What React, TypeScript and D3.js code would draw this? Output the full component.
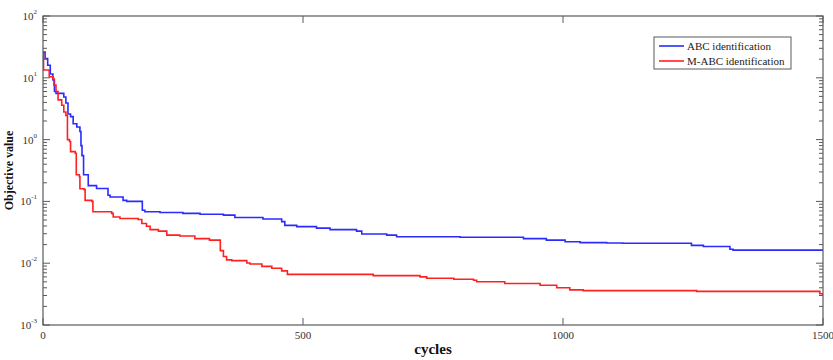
import React from "react";
import * as d3 from "d3";

// Convergence histories: [cycle, objective value], piecewise constant between entries
const abcCycles = [0, 4, 9, 14, 19, 22, 25, 40, 44, 48, 53, 58, 65, 71, 73, 75, 78, 87, 103, 125, 129, 154, 161, 191, 196, 225, 269, 302, 347, 369, 423, 459, 465, 488, 526, 552, 603, 613, 661, 680, 802, 924, 968, 1004, 1033, 1084, 1115, 1247, 1270, 1321, 1327, 1500];
const abcValues = [26, 20.5, 16, 11.5, 9.2, 6, 5.6, 4.9, 3.9, 2.6, 2.35, 1.8, 1.6, 1.35, 0.8, 0.55, 0.27, 0.18, 0.162, 0.126, 0.118, 0.104, 0.1, 0.072, 0.068, 0.066, 0.064, 0.062, 0.06, 0.055, 0.052, 0.047, 0.041, 0.039, 0.037, 0.035, 0.033, 0.0297, 0.0285, 0.0268, 0.0263, 0.025, 0.0236, 0.0223, 0.0215, 0.0212, 0.021, 0.0194, 0.0186, 0.0168, 0.0163, 0.0163];

const mabcCycles = [0, 1, 12, 19, 21, 25, 29, 36, 40, 44, 47, 51, 53, 62, 64, 70, 71, 79, 81, 94, 96, 132, 135, 148, 183, 190, 199, 206, 222, 238, 263, 292, 320, 341, 347, 353, 363, 392, 398, 421, 440, 459, 470, 635, 725, 738, 790, 828, 834, 888, 956, 988, 1013, 1039, 1257, 1494, 1500];
const mabcValues = [25, 13.4, 10.4, 9.8, 7.6, 6, 4.4, 3.6, 2.8, 2.45, 1.0, 0.93, 0.64, 0.6, 0.27, 0.25, 0.16, 0.155, 0.104, 0.1, 0.068, 0.064, 0.056, 0.053, 0.051, 0.044, 0.0396, 0.035, 0.033, 0.0285, 0.0275, 0.025, 0.0236, 0.016, 0.0128, 0.0113, 0.011, 0.0101, 0.0097, 0.0089, 0.0083, 0.0075, 0.0066, 0.0063, 0.006, 0.0057, 0.0055, 0.0053, 0.005, 0.0047, 0.0044, 0.004, 0.0037, 0.0036, 0.0035, 0.0032, 0.003];

const seriesNames = ["ABC identification", "M-ABC identification"];
const seriesColors = ["#2b2bff", "#ff2020"];
const xTicks = [0, 500, 1000, 1500];
const yExponents = [2, 1, 0, -1, -2, -3];

const W = 833;
const H = 360;
const M = { left: 43, right: 10, top: 16, bottom: 35 };

export default function App() {
  const x = d3.scaleLinear().domain([0, 1500]).range([M.left, W - M.right]);
  const y = d3.scaleLog().domain([1e-3, 1e2]).range([H - M.bottom, M.top]);

  const line = d3
    .line<[number, number]>()
    .x((d) => x(d[0]))
    .y((d) => y(d[1]))
    .curve(d3.curveStepAfter);

  const abc: [number, number][] = abcCycles.map((c, i) => [c, abcValues[i]]);
  const mabc: [number, number][] = mabcCycles.map((c, i) => [c, mabcValues[i]]);

  const x0 = x.range()[0];
  const x1 = x.range()[1];
  const yTop = y.range()[1];
  const yBot = y.range()[0];

  // minor log ticks (2..9 in each decade)
  const minor: number[] = [];
  for (let e = -3; e < 2; e++) {
    for (let k = 2; k <= 9; k++) minor.push(k * Math.pow(10, e));
  }

  const axisColor = "#5a5a5a";
  const textColor = "#333";
  const font = "'Liberation Serif', 'Times New Roman', serif";

  const legX = 654;
  const legY = 37;

  return (
    <div style={{ position: "absolute", left: 0, top: 0 }}>
      <svg width={W} height={H} style={{ display: "block", background: "#fff" }}>
        <defs>
          <clipPath id="plotClip">
            <rect x={x0} y={yTop} width={x1 - x0} height={yBot - yTop} />
          </clipPath>
        </defs>
        <rect x={0} y={0} width={W} height={H} fill="#fff" />
        <g clipPath="url(#plotClip)">
          <path d={line(abc) || ""} fill="none" stroke={seriesColors[0]} strokeWidth={1.6} />
          <path d={line(mabc) || ""} fill="none" stroke={seriesColors[1]} strokeWidth={1.6} />
        </g>

        {/* frame */}
        <rect x={x0} y={yTop} width={x1 - x0} height={yBot - yTop} fill="none" stroke={axisColor} strokeWidth={1.2} />

        {/* x ticks, bottom and top */}
        {xTicks.map((t) => (
          <g key={"xt" + t}>
            <line x1={x(t)} x2={x(t)} y1={yBot} y2={yBot - 7} stroke={axisColor} />
            <line x1={x(t)} x2={x(t)} y1={yTop} y2={yTop + 7} stroke={axisColor} />
            <text
              x={x(t)}
              y={yBot + 14}
              textAnchor="middle"
              fontFamily={font}
              fontSize={11}
              fill={textColor}
            >
              {t}
            </text>
          </g>
        ))}

        {/* y major ticks and labels */}
        {yExponents.map((e) => {
          const v = Math.pow(10, e);
          return (
            <g key={"yt" + e}>
              <line x1={x0} x2={x0 + 7} y1={y(v)} y2={y(v)} stroke={axisColor} />
              <line x1={x1} x2={x1 - 7} y1={y(v)} y2={y(v)} stroke={axisColor} />
              <text
                x={x0 - 6}
                y={y(v) + 4}
                textAnchor="end"
                fontFamily={font}
                fontSize={11}
                fill={textColor}
              >
                10
                <tspan dy={-6} fontSize={7}>
                  {e}
                </tspan>
              </text>
            </g>
          );
        })}

        {/* y minor ticks */}
        {minor.map((v, i) => (
          <g key={"ym" + i}>
            <line x1={x0} x2={x0 + 4} y1={y(v)} y2={y(v)} stroke={axisColor} />
            <line x1={x1} x2={x1 - 4} y1={y(v)} y2={y(v)} stroke={axisColor} />
          </g>
        ))}

        {/* axis titles */}
        <text
          x={433}
          y={354}
          textAnchor="middle"
          fontFamily={font}
          fontWeight="bold"
          fontSize={15}
          fill="#111"
        >
          cycles
        </text>
        <text
          transform={`translate(13, ${(yTop + yBot) / 2}) rotate(-90)`}
          textAnchor="middle"
          fontFamily={font}
          fontWeight="bold"
          fontSize={12}
          fill="#111"
        >
          Objective value
        </text>

        {/* legend */}
        <rect x={legX} y={legY} width={137} height={32} fill="#fff" stroke={axisColor} strokeWidth={1} />
        {seriesNames.map((name, i) => (
          <g key={name}>
            <line
              x1={legX + 5}
              x2={legX + 30}
              y1={legY + 9 + i * 15}
              y2={legY + 9 + i * 15}
              stroke={seriesColors[i]}
              strokeWidth={1.6}
            />
            <text
              x={legX + 33}
              y={legY + 13 + i * 15}
              fontFamily={font}
              fontSize={11}
              fill="#222"
            >
              {name}
            </text>
          </g>
        ))}
      </svg>
    </div>
  );
}
